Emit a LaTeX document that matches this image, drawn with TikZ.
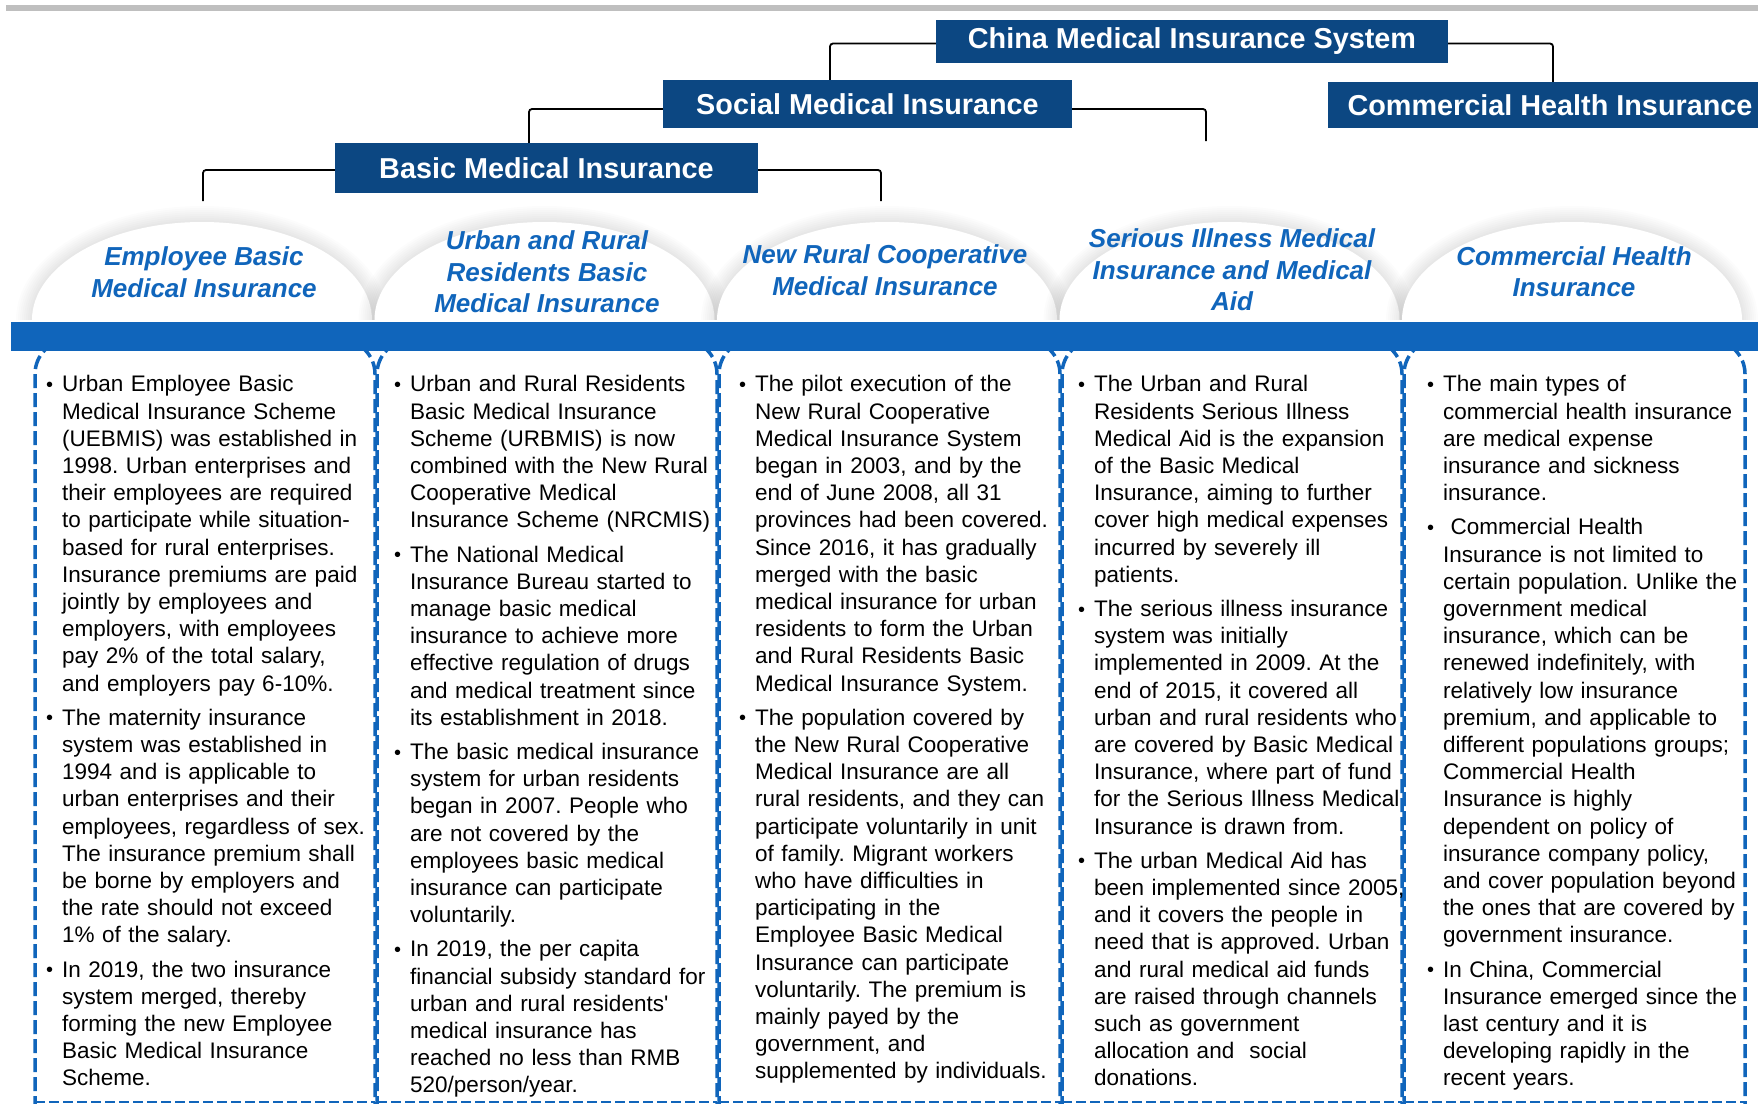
\documentclass[tikz,border=0pt]{standalone}
\usepackage{fontspec}
\setmainfont{Liberation Sans}
\usepackage{enumitem}
\frenchspacing

\definecolor{navy}{RGB}{12,71,130}
\definecolor{barblue}{RGB}{16,101,187}
\definecolor{topgray}{RGB}{191,191,191}

\newlist{pts}{itemize}{1}
\setlist[pts]{label=\raisebox{0.5pt}{\fontsize{20}{20}\selectfont\textbullet}, leftmargin=16pt, labelsep=9pt, itemsep=7pt, topsep=0pt, parsep=0pt, partopsep=0pt}

\tikzset{
  titlebox/.style={fill=navy, text=white, font=\fontsize{28.8}{34}\selectfont\bfseries, inner sep=0pt},
  domelabel/.style={text=barblue, font=\fontsize{26}{31.5}\selectfont\bfseries\itshape, align=center, inner sep=0pt},
  link/.style={draw=black, line width=1.8pt, rounded corners=3pt},
  colframe/.style={draw=barblue, line width=3.5pt, dash pattern=on 14pt off 5pt, rounded corners=34pt},
  botline/.style={draw=barblue, line width=2pt, dash pattern=on 10pt off 4pt},
  coltext/.style={anchor=north west, inner sep=0pt, text width=345pt, font=\fontsize{22.5}{27.2}\selectfont}
}

\begin{document}
\begin{tikzpicture}[x=1pt, y=-1pt]
\useasboundingbox (0,0) rectangle (1758,1103);
\clip (0,0) rectangle (1758,1103);
\fill[topgray] (6,5) rectangle (1758,11);

% dashed column frames
\foreach \l/\r in {35/375, 377/717, 719/1060, 1062/1402, 1404/1745}
{
\draw[colframe] (\l,1110) -- (\l,340) -- (\r,340) -- (\r,1110);
\draw[botline] (\l,1102) -- (\r,1102);
}

% domes with soft glow
\foreach \c in {202,544.5,887,1229.5,1572}
{
\foreach \k in {1,...,8}
  \fill[black, opacity=0.012] (\c-170-2*\k,320) arc[start angle=180, end angle=0, x radius={(170+2*\k)*1pt}, y radius={(98+2*\k)*1pt}];
\fill[white] (\c-170,320) arc[start angle=180, end angle=0, x radius=170pt, y radius=98pt];
}
\fill[barblue] (11,322) rectangle (1758,351);

% hierarchy
\node[titlebox, minimum width=512pt, minimum height=43pt] (china) at (1192,41.5) {China Medical Insurance System};
\node[titlebox, minimum width=409pt, minimum height=48pt] (social) at (867.5,104) {Social Medical Insurance};
\node[titlebox, minimum width=444pt, minimum height=46pt] (commercial) at (1550,105) {Commercial Health Insurance};
\node[titlebox, minimum width=423pt, minimum height=50pt] (basic) at (546.5,168) {Basic Medical Insurance};

\coordinate (c1) at (203,201);
\coordinate (c3) at (881,201);
\coordinate (c4) at (1206,141);

\draw[link] ([yshift=-2pt]china.west) -| ([xshift=-37.5pt]social.north);
\draw[link] ([yshift=-2pt]china.east) -| ([xshift=3pt]commercial.north);
\draw[link] ([yshift=-5pt]social.west) -| ([xshift=-17.5pt]basic.north);
\draw[link] ([yshift=-5pt]social.east) -| (c4);
\draw[link] ([yshift=-2pt]basic.west) -| (c1);
\draw[link] ([yshift=-2pt]basic.east) -| (c3);

% dome labels
\node[domelabel] (d1) at (204,272) {Employee Basic\\Medical Insurance};
\node[domelabel] (d2) at (547,272) {Urban and Rural\\Residents Basic\\Medical Insurance};
\node[domelabel] (d3) at (885,270) {New Rural Cooperative\\Medical Insurance};
\node[domelabel] (d4) at (1232,270) {Serious Illness Medical\\Insurance and Medical\\Aid};
\node[domelabel] (d5) at (1574,271.5) {Commercial Health\\Insurance};

% column texts
\node[coltext] (t1) at (46,364.5) {\begin{pts}
\item Urban Employee Basic\\ Medical Insurance Scheme\\ (UEBMIS) was established in\\ 1998. Urban enterprises and\\ their employees are required\\ to participate while situation-\\based for rural enterprises.\\ Insurance premiums are paid\\ jointly by employees and\\ employers, with employees\\ pay 2\% of the total salary,\\ and employers pay 6-10\%.
\item The maternity insurance\\ system was established in\\ 1994 and is applicable to\\ urban enterprises and their\\ employees, regardless of sex.\\ The insurance premium shall\\ be borne by employers and\\ the rate should not exceed\\ 1\% of the salary.
\item In 2019, the two insurance\\ system merged, thereby\\ forming the new Employee\\ Basic Medical Insurance\\ Scheme.
\end{pts}};

\node[coltext] (t2) at (394,364.5) {\begin{pts}
\item Urban and Rural Residents\\ Basic Medical Insurance\\ Scheme (URBMIS) is now\\ combined with the New Rural\\ Cooperative Medical\\ Insurance Scheme (NRCMIS)
\item The National Medical\\ Insurance Bureau started to\\ manage basic medical\\ insurance to achieve more\\ effective regulation of drugs\\ and medical treatment since\\ its establishment in 2018.
\item The basic medical insurance\\ system for urban residents\\ began in 2007. People who\\ are not covered by the\\ employees basic medical\\ insurance can participate\\ voluntarily.
\item In 2019, the per capita\\ financial subsidy standard for\\ urban and rural residents\textquotesingle\\ medical insurance has\\ reached no less than RMB\\ 520/person/year.
\end{pts}};

\node[coltext] (t3) at (739,364.5) {\begin{pts}
\item The pilot execution of the\\ New Rural Cooperative\\ Medical Insurance System\\ began in 2003, and by the\\ end of June 2008, all 31\\ provinces had been covered.\\ Since 2016, it has gradually\\ merged with the basic\\ medical insurance for urban\\ residents to form the Urban\\ and Rural Residents Basic\\ Medical Insurance System.
\item The population covered by\\ the New Rural Cooperative\\ Medical Insurance are all\\ rural residents, and they can\\ participate voluntarily in unit\\ of family. Migrant workers\\ who have difficulties in\\ participating in the\\ Employee Basic Medical\\ Insurance can participate\\ voluntarily. The premium is\\ mainly payed by the\\ government, and\\ supplemented by individuals.
\end{pts}};

\node[coltext] (t4) at (1078,364.5) {\begin{pts}
\item The Urban and Rural\\ Residents Serious Illness\\ Medical Aid is the expansion\\ of the Basic Medical\\ Insurance, aiming to further\\ cover high medical expenses\\ incurred by severely ill\\ patients.
\item The serious illness insurance\\ system was initially\\ implemented in 2009. At the\\ end of 2015, it covered all\\ urban and rural residents who\\ are covered by Basic Medical\\ Insurance, where part of fund\\ for the Serious Illness Medical\\ Insurance is drawn from.
\item The urban Medical Aid has\\ been implemented since 2005,\\ and it covers the people in\\ need that is approved. Urban\\ and rural medical aid funds\\ are raised through channels\\ such as government\\ allocation and\ \ social\\ donations.
\end{pts}};

\node[coltext] (t5) at (1427,364.5) {\begin{pts}
\item The main types of\\ commercial health insurance\\ are medical expense\\ insurance and sickness\\ insurance.
\item \ Commercial Health\\ Insurance is not limited to\\ certain population. Unlike the\\ government medical\\ insurance, which can be\\ renewed indefinitely, with\\ relatively low insurance\\ premium, and applicable to\\ different populations groups;\\ Commercial Health\\ Insurance is highly\\ dependent on policy of\\ insurance company policy,\\ and cover population beyond\\ the ones that are covered by\\ government insurance.
\item In China, Commercial\\ Insurance emerged since the\\ last century and it is\\ developing rapidly in the\\ recent years.
\end{pts}};
\end{tikzpicture}
\end{document}
